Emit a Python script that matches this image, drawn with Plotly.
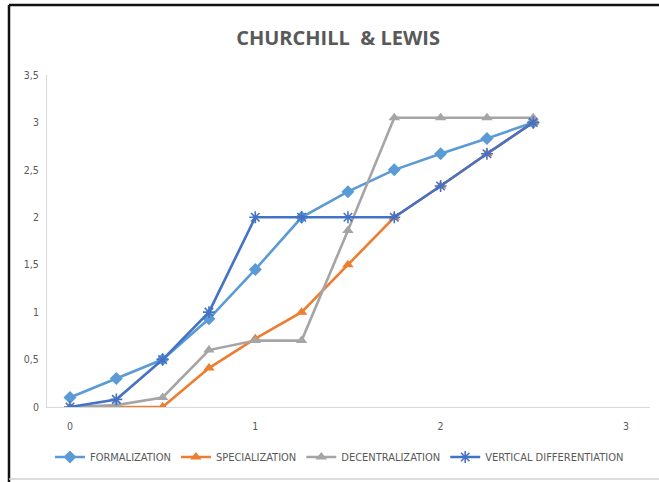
import plotly.graph_objects as go

# Stage positions along the x axis
stages = [0, 0.25, 0.5, 0.75, 1.0, 1.25, 1.5, 1.75, 2.0, 2.25, 2.5]

formalization = [0.1, 0.3, 0.5, 0.93, 1.45, 2.0, 2.27, 2.5, 2.67, 2.83, 3.0]
specialization = [0, 0, 0, 0.41, 0.72, 1.0, 1.5, 2.0, 2.33, 2.67, 3.0]
decentralization = [0, 0.02, 0.1, 0.6, 0.7, 0.7, 1.86, 3.05, 3.05, 3.05, 3.05]
vertical_diff = [0, 0.08, 0.5, 1.0, 2.0, 2.0, 2.0, 2.0, 2.33, 2.67, 3.0]

series = [
    ("FORMALIZATION", formalization, "#5B9BD5", "diamond", 10),
    ("SPECIALIZATION", specialization, "#ED7D31", "triangle-up", 10),
    ("DECENTRALIZATION", decentralization, "#A5A5A5", "triangle-up", 10),
    ("VERTICAL DIFFERENTIATION", vertical_diff, "#4472C4", "asterisk-open", 10),
]

fig = go.Figure()
for name, vals, color, sym, size in series:
    marker = dict(symbol=sym, size=size, color=color)
    if sym == "asterisk-open":
        marker["line"] = dict(color=color, width=1.6)
    fig.add_trace(go.Scatter(
        x=stages, y=vals, name=name, mode="lines+markers",
        line=dict(color=color, width=2.6),
        marker=marker,
    ))

narrow = "DejaVu Sans Condensed, Liberation Sans Narrow, sans-serif"
label_font = dict(family=narrow, size=10.5, color="#595959")

fig.update_layout(
    width=659, height=482,
    margin=dict(l=47, r=9, t=75, b=75, autoexpand=False),
    paper_bgcolor="white", plot_bgcolor="white",
    separators=", ",
    title=dict(
        text="<b>CHURCHILL &nbsp;& LEWIS</b>",
        x=0.513, xanchor="center", y=1 - 38 / 482, yanchor="middle",
        font=dict(family="Open Sans, sans-serif", size=20, color="#595959"),
    ),
    xaxis=dict(
        range=[-0.124, 3.13], tickvals=[0, 1, 2, 3],
        showgrid=False, zeroline=False,
        showline=True, linecolor="#D9D9D9", linewidth=1,
        ticks="", tickfont=label_font, ticklabelstandoff=9,
    ),
    yaxis=dict(
        range=[0, 3.5], dtick=0.5,
        showgrid=False, zeroline=False,
        showline=True, linecolor="#D9D9D9", linewidth=1,
        ticks="", tickfont=label_font, ticklabelstandoff=5,
    ),
    legend=dict(
        orientation="h", x=0.485, xanchor="center",
        y=(407 - 457) / 332, yanchor="middle",
        font=dict(family=narrow, size=11, color="#595959"),
        itemwidth=30, tracegroupgap=0,
    ),
    showlegend=True,
)

# Surrounding frame: dark top and left edges, light bottom edge
fig.add_shape(type="line", xref="paper", yref="paper",
              x0=(9 - 47) / 603, x1=1.2, y0=(407 - 5) / 332, y1=(407 - 5) / 332,
              line=dict(color="#111111", width=2.5))
fig.add_shape(type="line", xref="paper", yref="paper",
              x0=(9 - 47) / 603, x1=(9 - 47) / 603, y0=(407 - 5) / 332, y1=-0.3,
              line=dict(color="#111111", width=2.5))
fig.add_shape(type="line", xref="paper", yref="paper",
              x0=(9 - 47) / 603, x1=1.2, y0=(407 - 479) / 332, y1=(407 - 479) / 332,
              line=dict(color="#D0D0D0", width=1.5))

fig.write_html("out.html")
